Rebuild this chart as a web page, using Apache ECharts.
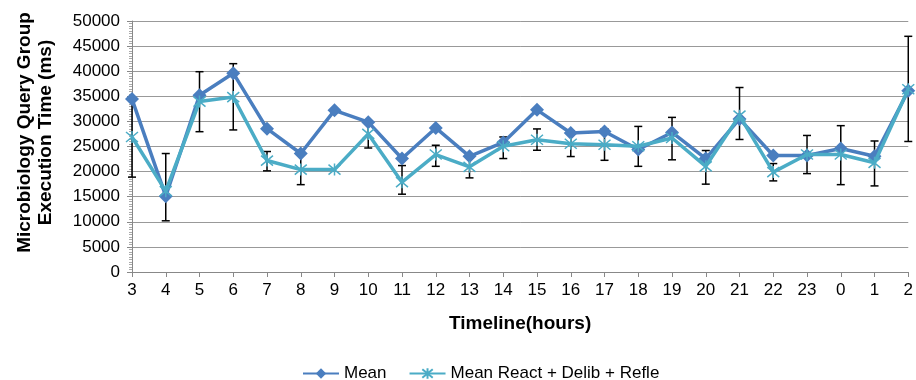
<!DOCTYPE html>
<html>
<head>
<meta charset="utf-8">
<script src="https://cdn.jsdelivr.net/npm/echarts@6/dist/echarts.min.js"></script>
<style>
html,body{margin:0;padding:0;background:#fff;}
#chart{width:916px;height:380px;}
</style>
</head>
<body>
<div id="chart"></div>
<script>
var categories = ['3','4','5','6','7','8','9','10','11','12','13','14','15','16','17','18','19','20','21','22','23','0','1','2'];
var meanValues = [34450, 15100, 35200, 39600, 28550, 23600, 32200, 29850, 22600, 28700, 23050, 25800, 32300, 27700, 28000, 24400, 27800, 22600, 30500, 23200, 23200, 24600, 23050, 36100];
var reactValues = [26900, 16100, 33950, 34850, 22200, 20400, 20400, 27500, 17900, 23400, 20950, 25050, 26350, 25550, 25350, 25050, 26700, 21050, 31150, 19900, 23400, 23400, 21750, 36400];
var errLow = [18900, 10200, 27950, 28300, 20150, 17400, null, 24700, 15500, 21050, 18750, 22600, 24250, 23000, 22250, 21050, 22350, 17500, 26400, 18150, 19600, 17400, 17150, 26000];
var errHigh = [34900, 23600, 39900, 41500, 24000, 23400, null, 29700, 21200, 25250, 23100, 26900, 28500, 28100, 28500, 29000, 30800, 24200, 36750, 21600, 27200, 29150, 26100, 46950];
var seriesNames = ['Mean', 'Mean React + Delib + Refle'];

var errData = [];
for (var i = 0; i < categories.length; i++) {
  if (errLow[i] != null) errData.push([i, errLow[i], errHigh[i]]);
}

var chart = echarts.init(document.getElementById('chart'));
var font = 'Liberation Sans, Arial, sans-serif';
var asterisk = 'path://M0,0L10,10M10,0L0,10M5,-1L5,11';
chart.setOption({
  animation: false,
  grid: {left: 132, right: 7, top: 21, bottom: 108, containLabel: false},
  legend: {
    bottom: -7,
    left: 297,
    itemWidth: 36,
    itemHeight: 13,
    itemGap: 22,
    textStyle: {fontFamily: font, fontSize: 17, color: '#000'},
    data: seriesNames
  },
  xAxis: {
    type: 'category',
    data: categories,
    boundaryGap: false,
    name: 'Timeline(hours)',
    nameLocation: 'middle',
    nameGap: 42,
    nameTextStyle: {fontFamily: font, fontSize: 19, fontWeight: 'bold', color: '#000'},
    axisLine: {lineStyle: {color: '#888', width: 1}},
    axisTick: {show: true, alignWithLabel: true, length: 5, lineStyle: {color: '#888'}},
    axisLabel: {fontFamily: font, fontSize: 17, color: '#000', margin: 10, interval: 0}
  },
  yAxis: {
    type: 'value',
    min: 0,
    max: 50000,
    interval: 5000,
    name: 'Microbiology Query Group\nExecution Time (ms)',
    nameLocation: 'middle',
    nameGap: 76,
    nameRotate: 90,
    nameTextStyle: {fontFamily: font, fontSize: 19, fontWeight: 'bold', color: '#000', lineHeight: 21, padding: [0, 0, 0, 28]},
    axisLine: {show: true, lineStyle: {color: '#888', width: 1}},
    axisTick: {show: true, length: 5, lineStyle: {color: '#888'}},
    minorTick: {show: true, splitNumber: 10, length: 3, lineStyle: {color: '#aaa'}},
    axisLabel: {fontFamily: font, fontSize: 17, color: '#000', margin: 12, formatter: function (v) { return String(v); }},
    splitLine: {show: true, lineStyle: {color: '#999', width: 1}}
  },
  series: [
    {
      type: 'custom',
      name: 'err',
      z: 1,
      data: errData,
      renderItem: function (params, api) {
        var x = api.coord([api.value(0), api.value(1)])[0];
        var yLow = api.coord([api.value(0), api.value(1)])[1];
        var yHigh = api.coord([api.value(0), api.value(2)])[1];
        var cap = 4;
        var style = {stroke: '#000', lineWidth: 1.5, fill: null};
        return {
          type: 'group',
          children: [
            {type: 'line', shape: {x1: x, y1: yLow, x2: x, y2: yHigh}, style: style},
            {type: 'line', shape: {x1: x - cap, y1: yLow, x2: x + cap, y2: yLow}, style: style},
            {type: 'line', shape: {x1: x - cap, y1: yHigh, x2: x + cap, y2: yHigh}, style: style}
          ]
        };
      },
      silent: true
    },
    {
      type: 'line',
      name: seriesNames[0],
      z: 3,
      data: meanValues,
      symbol: 'diamond',
      symbolSize: 14,
      showAllSymbol: true,
      lineStyle: {color: '#4A7EBF', width: 3.5},
      itemStyle: {color: '#4A7EBF'}
    },
    {
      type: 'line',
      name: seriesNames[1],
      z: 4,
      data: reactValues,
      symbol: asterisk,
      symbolSize: 12,
      showAllSymbol: true,
      lineStyle: {color: '#4BACC6', width: 3.5},
      itemStyle: {color: '#4BACC6', borderColor: '#4BACC6', borderWidth: 1.5}
    }
  ]
});
</script>
</body>
</html>
